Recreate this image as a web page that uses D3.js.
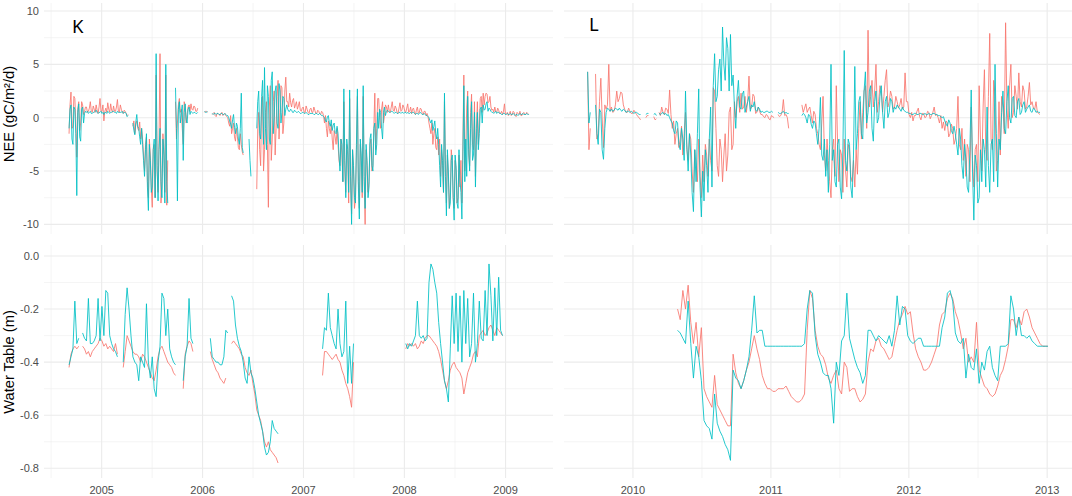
<!DOCTYPE html>
<html>
<head>
<meta charset="utf-8">
<script src="https://cdn.jsdelivr.net/npm/d3@7"></script>
<style>
  html, body { margin: 0; padding: 0; background: #fff; }
  svg { display: block; }
</style>
</head>
<body>
<svg id="chart" width="1072" height="496"></svg>
<script>
// ---------------- DATA (null = no data) ----------------
const neeStepDays = 3.5;   // NEE values every 3.5 days
const wtStepDays = 7;      // water table values every 7 days
const startK = "2004-09-05";
const startL = "2009-09-03";
const panelLabels = ["K", "L"];
const xTicksK = [2005, 2006, 2007, 2008, 2009];
const xTicksL = [2010, 2011, 2012, 2013];
const neeTicks = [10, 5, 0, -5, -10];
const wtTicks = [0.0, -0.2, -0.4, -0.6, -0.8];
const neeTitle = "NEE (gC/m\u00B2/d)";
const wtTitle = "Water Table (m)";

// NEE, site K (red series)
const neeK_red = [
  -1.5,1.2, 2.4,-1.0, -0.8,2.0, 1.8,-0.5, -3.7,0.8, 1.5,-1.2, -0.5,1.5, 1.2,0.3, 0.6,1.0,
  1.0,0.5, 0.6,0.9, 1.5,0.6, 0.5,1.1, 0.8,0.5, 1.2,0.7, 0.4,1.0, 1.8,0.6, 0.6,1.2, -0.3,0.6, 0.9,0.5,
  1.4,0.8, 0.5,1.3, 0.7,0.5, 1.1,0.6, 0.6,1.0, 1.7,0.6, 0.5,1.2, 0.8,0.5, 0.4,0.7, 0.6,0.4, 0.2,0.3,
  null,null, null,null,
  -0.8,-0.3, -1.5,-0.6, -0.3,-1.0, -1.2,-0.4, -2.0,-1.0,
  -2.0,-3.5, -5.0,-2.5, -1.8,-6.0, -7.5,-2.0, -3.5,-6.5, -8.4,-3.0, -2.5,-7.5, 4.0,-5.0, -7.0,-2.0,
  6.0,-8.0, -6.5,-1.5, -3.0,-7.0, 4.0,-8.2, -4.0,null,
  null,null, null,null, null,null,
  1.5,-2.0, -0.5,1.2, 1.8,0.5, 0.8,-1.0, -2.5,1.5, 1.0,-0.5, 0.3,1.0, 1.2,0.6,
  1.3,0.8, 0.7,1.1, 1.0,0.6, 0.6,0.9,
  null,null, null,null, null,null,
  0.5,0.6, 0.6,0.5,
  null,null, null,null,
  0.3,0.4, 0.5,0.2, 0.1,0.4, 0.4,0.3, 0.2,0.4, 0.5,0.2, 0.3,0.4, 0.2,0.1,
  0.0,-0.5, -0.8,0.2, -1.5,-1.0, -0.5,-1.8, -2.2,-1.0, -1.8,-2.8, -3.0,-1.5, -2.5,-3.2, -3.5,null,
  null,null, null,null, null,null, null,null, null,null, null,null,
  -6.7,-1.0, 0.5,-3.0, -4.5,1.0, 2.0,-5.0, -3.0,0.5, 1.5,-2.5, -8.4,1.0, 3.0,-4.0, -2.0,1.5, 2.5,-3.5,
  -1.0,2.0, 3.5,-2.0, 0.5,3.0, 2.8,-1.5, -0.5,2.5, 3.8,1.5,
  1.5,1.0, 2.3,1.4, 1.0,1.6, 1.8,0.9, 1.2,1.5, 0.8,1.1, 1.5,0.7,
  0.6,0.9, 1.0,0.5, 0.5,1.1, 0.8,0.5, 0.4,0.8, 0.9,0.5, 0.5,1.0, 0.7,0.4, 0.4,0.7, 0.6,0.4, 0.3,0.6, 0.5,0.2,
  -0.5,0.2, -1.0,-1.8, -0.3,-1.0, -1.5,-0.6, -2.0,-3.0, -1.2,-1.8, -2.5,-1.0,
  -2.5,-4.0, -4.5,-2.0, -3.5,-6.0, 1.5,-5.0, -7.0,-2.5, -3.5,-8.0, 1.8,-6.5, -9.0,-3.0, -5.0,-8.5, -7.5,-3.0,
  2.0,-6.0, -8.5,-2.5, -4.0,-7.5, 2.0,-6.0, -10.0,-3.0, -4.5,-7.0, -6.0,-2.5, -2.0,-5.0, -4.5,-1.0, 2.3,-3.0, -1.0,1.8,
  1.8,0.0, -1.0,0.8, 1.5,-0.5, 0.2,1.2, 1.0,0.5,
  1.2,0.6, 0.5,1.0, 1.5,0.7, 0.6,1.1, 0.9,0.5, 0.4,0.9, 1.4,0.6, 0.7,1.2, 1.0,0.6, 0.5,0.9, 1.3,0.5,
  0.6,1.0, 0.4,0.8, 0.9,0.5, 0.3,0.7, 1.0,0.4, 0.5,0.9, 0.8,0.4, 0.3,0.6, 0.6,0.2, 0.4,0.1,
  -0.5,-1.0, -1.5,-0.5, -2.5,-1.5, -1.0,-2.8, -3.0,-1.8,
  -3.5,-2.0, -5.5,-3.0, -4.5,-7.0, 1.5,-4.0, -8.0,-3.5, -5.5,-8.5, -7.0,-3.0, -4.0,-7.5, -8.5,-4.0, -5.0,-8.0,
  -7.5,-3.5, -6.5,-4.0, -8.0,-2.5, 4.0,-5.0, -3.0,1.0, 2.5,-3.5, -4.5,0.5, 2.2,-2.5, -3.0,1.5, -5.5,-1.0,
  1.5,-2.5, -0.5,1.8, 2.0,0.5,
  2.3,1.2, 2.0,2.3, 2.2,1.4, 1.5,2.0, 1.0,0.7,
  0.8,0.5, 1.0,0.6, 0.5,0.9, 0.7,0.4, 0.4,0.6,
  0.3,0.6, 1.3,0.3, 0.4,0.5, 0.2,0.4, 0.6,0.2, 0.3,0.6, 0.5,0.2, 0.1,0.5, 0.4,0.3, 0.6,0.2, 0.2,0.4,
  0.5,0.3, 0.3,0.5, 0.4,0.3
];
// NEE, site K (cyan series)
const neeK_cyan = [
  -1.0,0.8, 1.2,-2.0, -2.5,1.0, 0.8,-1.5, -7.3,0.5, 1.3,-1.8, -2.2,0.8, 1.0,-0.5, 0.4,0.6,
  0.5,0.6, 0.4,0.5, 0.6,0.4, 0.4,0.5, 0.5,0.6, 0.7,0.5, 0.4,0.5, 0.5,0.6, 0.4,0.5, 0.3,0.5, 0.5,0.4,
  0.6,0.5, 0.4,0.5, 0.5,0.6, 0.6,0.5, 0.5,0.4, 0.6,0.5, 0.5,0.5, 0.5,0.6, 0.4,0.5, 0.5,0.4, 0.1,0.2,
  null,null, null,null,
  -0.5,-1.2, -1.6,-0.4, 0.3,-0.8, -1.0,-1.8, -2.5,-1.0,
  -2.5,-4.0, -5.5,-3.0, -1.5,-6.5, -8.7,-2.5, -4.0,-7.0, -6.5,-3.0, -2.0,-7.5, 6.0,-4.5, -7.8,-3.0,
  -1.0,-6.0, -7.5,-2.0, -3.5,-8.0, 5.0,-6.0, -8.0,null,
  null,null, null,null, null,null,
  2.8,-1.0, -7.8,0.8, 1.5,-0.5, 0.5,1.2, -4.0,0.5, 1.3,-0.2, -0.5,0.8, 1.0,0.3,
  0.6,0.5, 0.4,0.5, 0.5,0.4, 0.4,0.5,
  null,null, null,null, null,null,
  0.6,0.5, 0.5,0.6,
  null,null, null,null,
  0.4,0.3, 0.4,0.4, 0.3,0.4, 0.4,0.3, 0.3,0.4, 0.4,0.3, 0.3,0.4, 0.3,0.2,
  0.2,0.0, -0.3,-0.6, -1.0,-0.2, 0.3,-0.9, -1.5,-0.5, -0.8,-2.0, -2.5,-1.0, 2.3,-2.8, -3.3,null,
  null,null, null,null, -2.0,-4.0, -5.5,null, null,null, null,null,
  -1.0,1.5, 2.5,-1.5, -2.0,2.0, 3.5,-2.5, 4.7,-1.0, -3.0,3.0, 2.0,-2.0, -2.5,3.5, 4.3,-1.5, 0.0,2.5,
  3.0,-0.5, -1.0,3.2, 2.5,-0.5, 0.5,2.0, 1.8,0.2, 0.8,1.2,
  0.8,0.6, 0.6,0.8, 0.7,0.5, 0.5,0.7, 0.6,0.5, 0.5,0.6, 0.5,0.4,
  0.4,0.5, 0.5,0.4, 0.4,0.5, 0.4,0.3, 0.3,0.4, 0.4,0.4, 0.4,0.3, 0.3,0.4, 0.4,0.3, 0.3,0.4, 0.3,0.2, 0.2,0.1,
  0.0,-0.3, -0.4,0.1, 0.2,-0.5, -0.8,-0.2, -1.2,-0.7, -0.5,-1.4, -1.5,-0.8,
  -1.5,-3.5, -5.0,-2.0, -2.5,-6.0, 2.7,-4.0, -7.5,-2.0, -3.0,-7.0, 2.6,-5.5, -10.0,-3.0, -4.5,-7.5, -8.0,-2.5,
  2.7,-6.5, -9.5,-2.0, -3.5,-7.0, 3.0,-5.5, -8.5,-2.5, -4.0,-7.5, -6.5,-2.0, -1.5,-4.5, -5.0,-1.0, -0.5,-3.5, -2.5,0.5,
  -1.0,0.8, 0.5,-1.0, -2.0,0.5, 1.0,0.2, 0.6,0.7,
  0.6,0.5, 0.5,0.6, 0.6,0.5, 0.4,0.5, 0.5,0.4, 0.4,0.5, 0.5,0.4, 0.5,0.5, 0.4,0.5, 0.5,0.4, 0.5,0.4,
  0.4,0.5, 0.4,0.5, 0.5,0.4, 0.3,0.4, 0.4,0.3, 0.4,0.5, 0.4,0.3, 0.3,0.4, 0.3,0.2, 0.2,0.1,
  0.0,-0.3, -0.5,-0.2, -1.2,-0.8, -0.3,-1.5, -2.0,-1.0,
  -2.5,-4.5, -6.5,-2.5, -4.0,-7.0, 2.3,-5.5, -9.2,-3.0, -5.0,-8.5, -8.0,-4.0, -3.5,-7.5, -9.6,-3.5, -4.5,-8.0,
  -8.5,-3.0, -6.0,-7.0, -9.5,-4.0, 3.0,-6.0, -2.0,-5.5, 2.0,-3.0, -5.0,-1.0, 1.5,-4.0, -3.5,0.5, -6.5,-2.0,
  0.5,-3.0, -1.5,0.8, 1.0,-0.5,
  1.2,0.7, 0.8,1.3, 1.5,0.6, 0.9,0.8, 0.6,0.5,
  0.5,0.4, 0.5,0.6, 0.4,0.5, 0.5,0.4, 0.4,0.3,
  0.3,0.4, 0.4,0.3, 0.3,0.4, 0.3,0.3, 0.4,0.3, 0.3,0.4, 0.3,0.2, 0.3,0.3, 0.2,0.3, 0.4,0.3, 0.3,0.4,
  0.3,0.3, 0.3,0.4, 0.3,0.3
];
// NEE, site L (red series)
const neeL_red = [
  4.3,-3.0, -1.0,null, null,null,
  4.1,-2.0, -1.5,1.5, 3.7,0.0, -2.8,1.2,
  0.8,1.2, 5.0,0.6,
  1.0,0.5, 0.6,1.2, 2.5,1.5, 1.8,2.4, 2.3,1.2, 0.8,0.5, 0.5,0.9, 0.6,0.4, 0.4,0.7, 0.5,0.3,
  0.1,0.0, -0.2,null, null,null, 0.0,0.2, 0.2,null, null,null, 0.1,-0.2, -0.1,null,
  0.5,0.2, 1.0,0.5, 0.3,0.9, 0.8,0.4, 2.6,0.3,
  -1.0,-0.3, -2.5,-1.5, -1.0,-2.8, -2.0,-0.8, -3.5,-1.5, 0.5,-3.0, -4.0,-1.5, -2.0,-5.0, -7.0,-3.0,
  -4.5,-6.0, -2.0,-5.5, -7.5,-3.5,
  -6.0,-2.5, -3.5,-5.5, -2.0,-4.0, -5.0,2.8, 2.5,-1.0, -4.5,-5.5, -2.0,-3.0, -6.0,-3.5, -1.5,-5.0,
  -3.5,0.5, 1.0,-3.0, -2.5,1.5,
  0.0,1.5, 2.0,0.5, 2.3,0.8, 1.0,2.0, 0.5,1.5, 3.9,0.8, 1.0,2.2, 2.0,0.4, 0.5,1.0, 0.6,0.3,
  0.3,0.1, 0.0,0.3, 0.2,-0.1, -0.2,0.2, 0.1,0.0,
  null,null, 0.3,0.1, 0.2,0.5, 1.7,0.2, 0.3,0.0, -1.0,null, null,null,
  null,null, null,null, null,null,
  1.2,0.5, 0.9,1.3, 0.5,0.8, 1.0,0.2, -0.5,0.6, 0.3,-1.0,
  -1.5,-2.5, -3.0,-0.5, 2.0,-3.5, -5.0,-2.0, -4.0,-6.0, -7.5,-3.0, -2.0,-5.5, 3.0,-2.5, -6.0,-3.0,
  -3.5,-7.0, -2.0,-5.0, -6.5,-2.5, -3.0,-5.5, -6.0,-4.0,
  -6.5,-3.0, -5.3,-1.0, 1.5,-2.0, 0.5,2.5, 3.0,-1.0, 8.2,1.0, 2.0,3.5, 1.0,2.5, 5.0,0.5, 1.5,3.0,
  2.5,0.5, 2.0,3.5, 4.5,1.0, 1.5,2.5, 2.0,0.8, 1.0,2.0, 1.5,0.9, 1.2,1.8, 0.8,1.0, 4.2,1.5,
  1.5,0.3, 0.0,0.5, -0.3,0.2, 0.2,0.6, 0.9,0.1, -0.2,0.4, 0.4,0.0, 0.1,0.6, 0.5,-0.1, 0.2,0.5,
  1.0,0.2, 0.3,0.0, -0.5,0.2, -1.0,-0.4,
  -1.2,-0.3, -0.5,-1.8, -1.5,-0.6, -1.0,-2.5,
  -2.0,-1.0, 2.0,-2.5, -3.0,-1.0, -4.0,-2.0, -5.5,-2.5, -3.0,-6.0, 1.0,-4.0, -6.5,-3.0, -2.5,-6.0,
  3.0,-2.0, -5.0,1.0, 4.5,-3.0, -4.0,2.0, 7.9,-2.0, -3.0,3.5, 2.0,-5.0, -4.0,1.5,
  -3.5,2.0, 1.0,-1.5, 8.9,1.0, -1.0,3.0, 5.0,0.0, 0.5,3.0, 2.0,0.8, 4.2,1.5, 1.0,3.0, 2.5,0.8,
  1.0,2.0, 3.3,1.2, 1.5,0.9, 0.8,1.5, 0.5,0.4, 0.3,null
];
// NEE, site L (cyan series)
const neeL_cyan = [
  4.3,-0.5, 0.5,null, null,null,
  1.2,-1.5, -2.5,0.8, 0.5,-3.0, -3.9,-1.0,
  0.5,0.9, 0.8,0.6,
  0.8,0.6, 0.7,0.9, 0.8,0.7, 0.9,0.7, 0.6,0.8, 0.7,0.5, 0.6,0.6, 0.5,0.6, 0.5,0.4, 0.5,0.5,
  0.4,0.3, 0.3,null, null,null, 0.3,0.4, 0.4,null, null,null, 0.3,0.4, 0.2,null,
  0.4,0.3, 0.4,0.5, 0.3,0.4, 0.2,0.3, 0.0,-0.3,
  -0.5,-1.2, -1.5,-0.3, -0.5,-2.5, -3.0,-1.0, -2.0,-4.0, 2.5,-2.5, -5.0,-1.5, -3.5,-7.0, -8.8,-3.0,
  -6.0,-1.5, 2.7,-6.5, -9.3,-5.0,
  -7.8,-3.0, -4.5,-7.0, -2.0,1.0, -6.5,3.0, 6.0,1.5, 2.0,4.5, 5.5,2.5, 8.5,5.0, 3.5,7.5,
  6.5,2.5, 7.8,3.0, 4.0,1.0,
  -1.0,2.0, 3.5,1.0, 0.8,2.2, 2.5,0.5, 1.0,1.5, 2.0,0.6, 1.2,1.0, 1.5,0.7, 0.6,1.0, 0.8,0.5,
  0.6,0.5, 0.5,0.6, 0.6,0.5, 0.5,0.6, 0.5,null,
  null,null, 0.5,0.4, 0.4,0.5, 0.6,0.4, 0.5,0.4, 0.4,null, null,null,
  null,null, null,null, null,null,
  0.2,0.4, 0.3,0.0, -0.5,0.3, 0.2,-0.6, -1.0,-0.3, -0.5,-1.5,
  -2.5,-1.0, 1.9,-3.5, -4.0,-2.0, -5.5,-3.0, -7.0,-2.5, 5.0,-4.0, -3.0,-6.0, -6.5,-2.5, -2.0,-6.5,
  -7.6,-3.0, 6.3,-4.0, -5.0,-2.0, -2.5,-6.5, -7.5,-3.5,
  4.8,-3.0, -1.5,1.5, 2.0,-1.5, -2.0,2.5, 4.3,-0.5, 0.5,2.5, 3.0,-1.0, -2.2,1.5, 2.5,-0.5, 0.0,2.0,
  3.0,0.5, -1.0,1.5, 2.0,0.0, 0.5,1.8, 1.5,0.5, 1.0,0.8, 1.2,1.0, 0.8,0.6, 1.0,0.7, 0.6,0.5,
  0.5,0.4, 0.4,0.3, 0.3,0.4, 0.4,0.3, 0.3,0.4, 0.4,0.3, 0.3,0.4, 0.3,0.3, 0.4,0.3, 0.3,0.4,
  0.4,0.3, 0.3,0.2, 0.2,0.1, 0.0,0.1,
  -0.3,-0.6, -0.8,-0.2, -0.5,-1.2, -1.5,-0.8,
  -1.5,-2.5, -3.5,-1.0, -2.0,-4.5, -5.7,-2.5, -4.0,-6.5, -7.0,-3.0, 2.6,-5.0, -9.6,-3.5, -4.5,-8.0,
  -7.5,-3.0, -6.0,-2.0, -3.0,-6.5, 1.0,-4.5, -7.0,-2.5, -2.0,-6.0, 5.0,-1.5, -6.5,-2.0,
  -3.0,0.5, 2.5,-1.0, -1.5,1.5, 3.0,0.0, -0.5,1.8, 2.0,0.2, 0.0,1.5, 1.8,0.3, 0.5,1.2, 1.5,0.5,
  0.8,1.0, 1.2,0.6, 0.5,0.9, 0.8,0.5, 0.6,0.5, 0.5,null
];

// Water table, site K (red series)
const wtK_red = [
  -0.42, -0.37, -0.35, -0.34, -0.35, -0.34, null, -0.34, -0.35, -0.37, -0.36, -0.38, -0.36,
  -0.35, -0.34, -0.33, -0.31, -0.32, -0.34, -0.33, -0.35, -0.34, -0.35, -0.36, -0.33, -0.37,
  null, null,
  -0.42, -0.36, -0.30, -0.32, -0.34, -0.36, -0.37, -0.37, -0.38, -0.40, -0.37, -0.38, -0.40, -0.42,
  -0.44, -0.46, -0.47, -0.43, -0.38, -0.35, -0.34, -0.36, -0.38, -0.40, -0.41, -0.42, -0.44, -0.45,
  null, null, null,
  -0.50, -0.37, -0.34, -0.32, -0.33, -0.36,
  null, null, null, null, null, null, null, null,
  -0.36, -0.39, -0.41, -0.43, -0.44, -0.46, -0.47, -0.48, -0.46, null,
  null,
  -0.33, -0.32, -0.33, -0.34, -0.35, -0.37, -0.38, -0.42, -0.44, -0.45, -0.43, -0.48, -0.52,
  -0.58, -0.60, -0.62, -0.66, -0.70, -0.72, -0.70, -0.73, -0.74, -0.75, -0.76, -0.78,
  null, null, null, null, null, null, null, null, null, null, null,
  null, null, null, null, null, null, null, null, null, null, null,
  -0.45, -0.36, -0.36, -0.37, -0.38, -0.39, -0.38, -0.37, -0.39, -0.40, -0.43, -0.45, -0.48,
  -0.50, -0.53, -0.57, -0.40,
  null, null, null, null, null, null, null, null, null, null, null, null, null,
  null, null, null, null, null, null, null, null, null, null, null, null, null,
  -0.35, -0.33, -0.34, -0.33, -0.34, -0.33, -0.35, -0.34, -0.32, -0.33, -0.31, -0.30, -0.30,
  -0.31, -0.32, -0.33, -0.34, -0.36, -0.39, -0.43, -0.47, -0.50, -0.47, -0.43, -0.41, -0.40,
  -0.42, -0.43, -0.44, -0.46, -0.52, -0.48, -0.44, -0.42, -0.40, -0.37, -0.36, -0.38, -0.30,
  -0.29, -0.28, -0.30, -0.29, -0.27, -0.26, -0.28, -0.30, -0.27, -0.28, -0.29, -0.30
];
// Water table, site K (cyan series)
const wtK_cyan = [
  -0.41, -0.38, -0.35, -0.17, -0.33, -0.31, null, -0.29, -0.31, -0.32, -0.16, -0.33, -0.33,
  -0.32, -0.30, -0.16, -0.32, -0.19, -0.30, -0.13, -0.14, -0.30, -0.33, -0.35, -0.36, -0.38,
  null, null,
  -0.40, -0.22, -0.12, -0.20, -0.30, -0.38, -0.40, -0.41, -0.47, -0.38, -0.40, -0.42, -0.18, -0.40,
  -0.46, -0.38, -0.50, -0.53, -0.40, -0.34, -0.14, -0.16, -0.30, -0.20, -0.35, -0.38, -0.40, -0.41,
  null, null, null,
  -0.47, -0.38, -0.34, -0.16, -0.31, -0.33,
  null, null, null, null, null, null, null, null,
  -0.31, -0.38, -0.39, -0.40, -0.40, -0.41, -0.41, -0.38, -0.28, -0.29,
  null,
  -0.15, -0.17, -0.26, -0.31, -0.34, -0.36, -0.40, -0.46, -0.48, -0.38, -0.44, -0.46, -0.50,
  -0.55, -0.60, -0.63, -0.66, -0.72, -0.75, -0.74, -0.70, -0.62, -0.65, -0.66, -0.67,
  null, null, null, null, null, null, null, null, null, null, null,
  null, null, null, null, null, null, null, null, null, null, null,
  -0.35, -0.27, -0.28, -0.14, -0.27, -0.30, -0.33, -0.35, -0.20, -0.33, -0.38, -0.36, -0.17,
  -0.48, -0.34, -0.48, -0.33,
  null, null, null, null, null, null, null, null, null, null, null, null, null,
  null, null, null, null, null, null, null, null, null, null, null, null, null,
  -0.33, -0.35, -0.33, -0.34, -0.32, -0.30, -0.17, -0.30, -0.31, -0.30, -0.32, -0.31, -0.10,
  -0.03, -0.05, -0.10, -0.14, -0.25, -0.33, -0.40, -0.47, -0.50, -0.55, -0.35, -0.15, -0.33,
  -0.14, -0.36, -0.15, -0.40, -0.13, -0.33, -0.16, -0.38, -0.33, -0.14, -0.40, -0.33, -0.17,
  -0.31, -0.32, -0.13, -0.30, -0.03, -0.15, -0.32, -0.12, -0.30, -0.08, -0.28, -0.30
];
// Water table, site L (red series)
const wtL_red = [
  null, null, null, null, null, null, null, null, null, null, null, null, null, null, null, null, null,
  null, null, null, null, null, null, null, null, null, null, null, null, null, null, null, null, null,
  -0.20, -0.24, -0.13, -0.20, -0.11, -0.25, -0.33, -0.25, -0.38, -0.27,
  -0.50, -0.53, -0.55, -0.57, -0.45, -0.56, -0.58, -0.60, -0.62, -0.64,
  -0.64, -0.37, -0.44, -0.48, -0.50, -0.47, -0.43, -0.40, -0.35, -0.30,
  -0.35, -0.39, -0.45, -0.48, -0.50, -0.50, -0.51, -0.51, -0.50, -0.50,
  -0.50, -0.49, -0.51, -0.53, -0.54, -0.55, -0.55, -0.54, -0.52, -0.28,
  -0.13, -0.16, -0.28, -0.34, -0.37, -0.38, -0.41, -0.46, -0.48, -0.45,
  -0.43, -0.50, -0.52, -0.40, -0.42, -0.51, -0.50, -0.50, -0.53, -0.55,
  -0.54, -0.52, -0.40, -0.35, -0.36, -0.32, -0.31, -0.34, -0.35, -0.37,
  -0.39, -0.38, -0.33, -0.28, -0.24, -0.22, -0.19, -0.22, -0.21, -0.29,
  -0.35, -0.38, -0.40, -0.43, -0.43, -0.42, -0.40, -0.37, -0.34, -0.26,
  -0.22, -0.21, -0.16, -0.14, -0.16, -0.21, -0.24, -0.29, -0.35, -0.31,
  -0.40, -0.38, -0.40, -0.25, -0.43, -0.46, -0.49, -0.50, -0.52, -0.53,
  -0.52, -0.49, -0.45, -0.43, -0.39, -0.34, -0.24, -0.24, -0.27, -0.23,
  -0.26, -0.21, -0.20, -0.23, -0.27, -0.29, -0.31, -0.33, -0.34, -0.34,
  -0.34
];
// Water table, site L (cyan series)
const wtL_cyan = [
  null, null, null, null, null, null, null, null, null, null, null, null, null, null, null, null, null,
  null, null, null, null, null, null, null, null, null, null, null, null, null, null, null, null, null,
  -0.28, -0.29, -0.31, -0.33, -0.17, -0.33, -0.46, -0.34, -0.38, -0.47,
  -0.62, -0.64, -0.65, -0.69, -0.52, -0.63, -0.66, -0.68, -0.71, -0.73,
  -0.77, -0.43, -0.46, -0.47, -0.50, -0.47, -0.43, -0.38, -0.28, -0.15,
  -0.29, -0.28, -0.28, -0.34, -0.34, -0.34, -0.34, -0.34, -0.34, -0.34,
  -0.34, -0.34, -0.34, -0.34, -0.34, -0.34, -0.34, -0.34, -0.33, -0.20,
  -0.13, -0.14, -0.30, -0.37, -0.40, -0.44, -0.45, -0.45, -0.50, -0.63,
  -0.40, -0.45, -0.32, -0.30, -0.14, -0.31, -0.35, -0.39, -0.42, -0.44,
  -0.48, -0.45, -0.28, -0.28, -0.30, -0.32, -0.30, -0.31, -0.32, -0.33,
  -0.30, -0.34, -0.28, -0.15, -0.26, -0.19, -0.20, -0.30, -0.32, -0.33,
  -0.32, -0.31, -0.31, -0.34, -0.34, -0.34, -0.34, -0.34, -0.34, -0.34,
  -0.27, -0.23, -0.14, -0.13, -0.17, -0.29, -0.32, -0.33, -0.31, -0.46,
  -0.37, -0.42, -0.43, -0.35, -0.48, -0.40, -0.43, -0.36, -0.34, -0.42,
  -0.45, -0.47, -0.34, -0.34, -0.34, -0.33, -0.15, -0.20, -0.30, -0.23,
  -0.30, -0.30, -0.31, -0.30, -0.32, -0.33, -0.34, -0.34, -0.34, -0.34,
  -0.34
];

// ---------------- LAYOUT ----------------
const RED = "#F8766D", CYAN = "#00BFC4";
const svg = d3.select("#chart");

function decYear(y) {
  const yr = Math.floor(y);
  const s = new Date(yr, 0, 1), e = new Date(yr + 1, 0, 1);
  return new Date(s.getTime() + (y - yr) * (e - s));
}

const cols = [
  { x0: 44, x1: 553, dom: [2004.43, 2009.47], ticks: xTicksK, start: startK,
    nee: [neeK_red, neeK_cyan], wt: [wtK_red, wtK_cyan], label: panelLabels[0], lx: 72, ly: 33 },
  { x0: 564, x1: 1072, dom: [2009.50, 2013.18], ticks: xTicksL, start: startL,
    nee: [neeL_red, neeL_cyan], wt: [wtL_red, wtL_cyan], label: panelLabels[1], lx: 589, ly: 31 }
];
const rows = [
  { y0: 3, y1: 234, dom: [-10.9, 10.75], ticks: neeTicks, minor: [7.5, 2.5, -2.5, -7.5],
    fmt: d3.format("d"), title: neeTitle, tcy: 114, key: "nee", step: neeStepDays },
  { y0: 245, y1: 478, dom: [-0.8365, 0.0414], ticks: wtTicks, minor: [-0.1, -0.3, -0.5, -0.7],
    fmt: d3.format(".1f"), title: wtTitle, tcy: 362, key: "wt", step: wtStepDays }
];

const font = "'Liberation Sans', Arial, sans-serif";
const DAY = 86400000;

function toPoints(arr, start, step) {
  const s = new Date(start + "T00:00:00").getTime();
  return arr.map((v, i) => ({ t: new Date(s + i * step * DAY), v }));
}

rows.forEach((row, ri) => {
  const y = d3.scaleLinear().domain(row.dom).range([row.y1, row.y0]);

  svg.append("text")
    .attr("transform", `translate(14,${row.tcy}) rotate(-90)`)
    .attr("text-anchor", "middle")
    .attr("font-family", font).attr("font-size", 14.7).attr("fill", "#000")
    .text(row.title);

  svg.append("g").selectAll("text").data(row.ticks).join("text")
    .attr("x", 39).attr("y", d => y(d)).attr("dy", "0.36em")
    .attr("text-anchor", "end")
    .attr("font-family", font).attr("font-size", 11).attr("fill", "#4D4D4D")
    .text(d => d === 0 && ri === 1 ? "0.0" : (d < 0 ? "-" + row.fmt(-d) : row.fmt(d)));

  cols.forEach((col, ci) => {
    const x = d3.scaleTime().domain(col.dom.map(decYear)).range([col.x0, col.x1]);
    const g = svg.append("g");
    const minorX = d3.range(Math.ceil(col.dom[0] - 0.5) + 0.5, col.dom[1], 1)
      .filter(v => v > col.dom[0] + 0.01 && v < col.dom[1]);

    g.selectAll(".mx").data(minorX).join("line")
      .attr("x1", d => x(decYear(d))).attr("x2", d => x(decYear(d)))
      .attr("y1", row.y0).attr("y2", row.y1)
      .attr("stroke", "#EBEBEB").attr("stroke-width", 0.55);
    g.selectAll(".my").data(row.minor).join("line")
      .attr("x1", col.x0).attr("x2", col.x1)
      .attr("y1", d => y(d)).attr("y2", d => y(d))
      .attr("stroke", "#EBEBEB").attr("stroke-width", 0.55);
    g.selectAll(".Mx").data(col.ticks).join("line")
      .attr("x1", d => x(decYear(d))).attr("x2", d => x(decYear(d)))
      .attr("y1", row.y0).attr("y2", row.y1)
      .attr("stroke", "#EBEBEB").attr("stroke-width", 1.1);
    g.selectAll(".My").data(row.ticks).join("line")
      .attr("x1", col.x0).attr("x2", col.x1)
      .attr("y1", d => y(d)).attr("y2", d => y(d))
      .attr("stroke", "#EBEBEB").attr("stroke-width", 1.1);

    const line = d3.line()
      .defined(d => d.v !== null && d.v !== undefined)
      .x(d => x(d.t)).y(d => y(d.v));
    const series = col[row.key];
    [RED, CYAN].forEach((c, si) => {
      g.append("path")
        .datum(toPoints(series[si], col.start, row.step))
        .attr("d", line)
        .attr("fill", "none")
        .attr("stroke", c)
        .attr("stroke-opacity", 0.85)
        .attr("stroke-width", 1.0)
        .attr("stroke-linejoin", "round");
    });

    if (ri === 0) {
      svg.append("text")
        .attr("x", col.lx).attr("y", col.ly)
        .attr("font-family", "'Noto Sans', 'Open Sans', sans-serif")
        .attr("font-size", 18.5).attr("fill", "#000")
        .text(col.label);
    }
    if (ri === 1) {
      svg.append("g").selectAll("text").data(col.ticks).join("text")
        .attr("x", d => x(decYear(d))).attr("y", 494)
        .attr("text-anchor", "middle")
        .attr("font-family", font).attr("font-size", 11).attr("fill", "#4D4D4D")
        .text(d => d);
    }
  });
});
</script>
</body>
</html>
